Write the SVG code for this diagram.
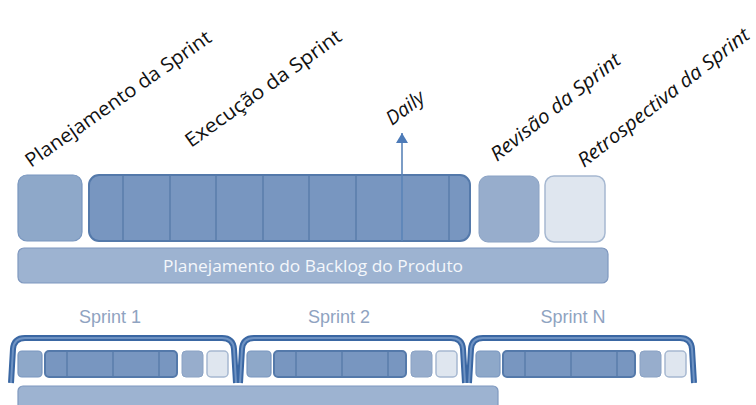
<svg xmlns="http://www.w3.org/2000/svg" width="756" height="405" viewBox="0 0 756 405">
<style>
.lbl{font-family:"Open Sans","Liberation Sans",sans-serif;font-size:19.5px;fill:#111}
.it{font-style:italic}
.plan{fill:#8ea8c9;stroke:#7896bf;stroke-width:1.2}
.exec{fill:#7896c0;stroke:#5479aa;stroke-width:2}
.rev{fill:#97adcc;stroke:#8aa2c4;stroke-width:1}
.retro{fill:#dfe6ef;stroke:#a6b8d1;stroke-width:1.5}
.bar{fill:#9db3d1;stroke:#7f98bf;stroke-width:1.2}
.div{stroke:#5a7dab;stroke-width:1.5}
.sp{font-family:"Liberation Sans",Arial,sans-serif;font-size:18px;fill:#8fa3c1;text-anchor:middle}
.br1{fill:none;stroke:#3a67a3;stroke-width:6;stroke-linejoin:round}
.br2{fill:none;stroke:#6f93c3;stroke-width:2;stroke-linejoin:round}
</style>
<defs>
<marker id="ah" viewBox="0 0 10 12" refX="10" refY="6" markerWidth="10" markerHeight="12" markerUnits="userSpaceOnUse" orient="auto">
<path d="M0,0 L10,6 L0,12 Z" fill="#4d7bb8"/>
</marker>
<g id="mini">
<rect class="plan" x="18" y="351" width="24" height="26" rx="4"/>
<rect class="exec" x="45" y="351" width="132" height="26" rx="4" stroke-width="1.5"/>
<line class="div" x1="67" y1="352" x2="67" y2="376"/>
<line class="div" x1="113" y1="352" x2="113" y2="376"/>
<line class="div" x1="159" y1="352" x2="159" y2="376"/>
<rect class="rev" x="182" y="351" width="21" height="26" rx="4"/>
<rect class="retro" x="207" y="351" width="21" height="26" rx="4"/>
</g>
<g id="brk">
<path class="br1" d="M11,383 L13,349 Q14,338 25,338 L222,338 Q233,338 234,349 L236,383"/>
<path class="br2" d="M11,383 L13,349 Q14,338 25,338 L222,338 Q233,338 234,349 L236,383"/>
</g>
</defs>

<g id="labels">
<text class="lbl" transform="translate(31,168) rotate(-35)" textLength="222" lengthAdjust="spacingAndGlyphs">Planejamento da Sprint</text>
<text class="lbl" transform="translate(191,148) rotate(-35.5)" textLength="187" lengthAdjust="spacingAndGlyphs">Execução da Sprint</text>
<text class="lbl it" transform="translate(392,126) rotate(-37)">Daily</text>
<text class="lbl it" transform="translate(497,162) rotate(-38.5)" textLength="160" lengthAdjust="spacingAndGlyphs">Revisão da Sprint</text>
<text class="lbl it" transform="translate(584,168) rotate(-38)" textLength="212" lengthAdjust="spacingAndGlyphs">Retrospectiva da Sprint</text>
</g>

<g id="planejamento">
<rect class="plan" x="18" y="175" width="64" height="66" rx="9"/>
</g>
<g id="execucao">
<rect class="exec" x="89" y="175" width="381" height="66" rx="10"/>
<line class="div" x1="123" y1="176" x2="123" y2="240"/>
<line class="div" x1="170" y1="176" x2="170" y2="240"/>
<line class="div" x1="216" y1="176" x2="216" y2="240"/>
<line class="div" x1="263" y1="176" x2="263" y2="240"/>
<line class="div" x1="309" y1="176" x2="309" y2="240"/>
<line class="div" x1="356" y1="176" x2="356" y2="240"/>
<line class="div" x1="449" y1="176" x2="449" y2="240"/>
</g>
<g id="revisao">
<rect class="rev" x="479" y="176" width="60" height="66" rx="9"/>
</g>
<g id="retrospectiva">
<rect class="retro" x="545" y="176" width="60" height="66" rx="9"/>
</g>
<g id="backlog">
<rect class="bar" x="18" y="248" width="590" height="35" rx="6"/>
<text x="313" y="272" font-family="Open Sans, Liberation Sans, sans-serif" font-size="15.5" fill="#f4f7fb" text-anchor="middle" textLength="300" lengthAdjust="spacingAndGlyphs">Planejamento do Backlog do Produto</text>
</g>

<g id="connectors">
<line x1="402" y1="241" x2="402" y2="133" stroke="#5b84b8" stroke-width="1.6" marker-end="url(#ah)"/>
</g>

<g id="sprint1">
<text class="sp" x="110" y="323">Sprint 1</text>
<use href="#mini"/>
<use href="#brk"/>
</g>
<g id="sprint2">
<text class="sp" x="339" y="323">Sprint 2</text>
<use href="#mini" transform="translate(229,0)"/>
<use href="#brk" transform="translate(229,0)"/>
</g>
<g id="sprintN">
<text class="sp" x="573" y="323">Sprint N</text>
<use href="#mini" transform="translate(458,0)"/>
<use href="#brk" transform="translate(458,0)"/>
</g>
<g id="backlog2">
<rect class="bar" x="18" y="386" width="480" height="26" rx="5"/>
</g>
</svg>
